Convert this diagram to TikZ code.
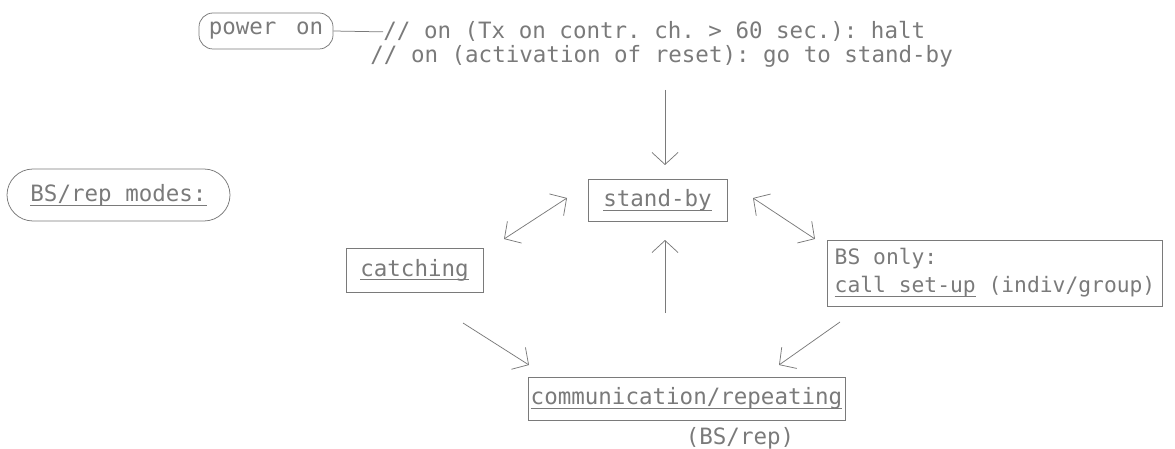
\documentclass[tikz,border=0pt]{standalone}
\usepackage{fontspec}
\setmonofont{DejaVu Sans Mono}
\usetikzlibrary{arrows.meta}
\newsavebox\ulbx
\newcommand\myul[1]{\sbox\ulbx{#1}\rlap{\rule[-4pt]{\wd\ulbx}{0.7pt}}\usebox\ulbx}
\colorlet{plotink}{black!52}
\tikzset{
  lbl/.style={font=\ttfamily\fontsize{22.5}{28}\selectfont, text=plotink},
  statebox/.style={lbl, draw=plotink, rectangle, inner sep=0pt},
  roundbox/.style={lbl, draw=plotink, rectangle, inner sep=0pt},
  tipb/.tip={Straight Barb[length=12pt,width=26pt]},
  arr/.style={draw=plotink, -tipb},
  darr/.style={draw=plotink, tipb-tipb},
}
\begin{document}
\begin{tikzpicture}[x=1pt,y=-1pt,line width=0.75pt]
\useasboundingbox (0,0) rectangle (1175,449);

% nodes
\node[roundbox, rounded corners=14pt, minimum width=134pt, minimum height=36pt] (power) at (266,31) {power\hspace{6pt} on};
\node[lbl, anchor=base west, inner sep=0pt] (cond1) at (383,39) {// on (Tx on contr. ch. > 60 sec.): halt};
\node[lbl, anchor=base west, inner sep=0pt] (cond2) at (370,63) {// on (activation of reset): go to stand-by};

\node[roundbox, rounded corners=26pt, minimum width=223pt, minimum height=52pt] (modes) at (118.5,195) {\myul{BS/rep modes:}};

\node[statebox, minimum width=139pt, minimum height=42pt] (standby) at (657.5,200) {\myul{stand-by}};
\node[statebox, minimum width=137pt, minimum height=44pt] (catching) at (414.5,270) {\myul{catching}};
\node[statebox, inner xsep=7pt, minimum height=66pt, align=left, font=\ttfamily\fontsize{21.3}{28}\selectfont] (bsonly) at (995,273) {BS only:\\\myul{call set-up} (indiv/group)};
\node[statebox, minimum width=317pt, minimum height=43pt] (comm) at (686.5,398.5) {\myul{communication/repeating}};
\node[lbl, anchor=base, inner sep=0pt] (bsrep) at (740,444) {(BS/rep)};

% connector coordinates
\coordinate (dtop) at (665,90);
\coordinate (dtip) at (665,165);
\coordinate (ubot) at (665,313);
\coordinate (utip) at (665,240);
\coordinate (la) at (504,239);
\coordinate (lb) at (567,198);
\coordinate (ra) at (753,198);
\coordinate (rb) at (815,239);
\coordinate (ca) at (463,323);
\coordinate (cb) at (529,365);
\coordinate (ba) at (840,322);
\coordinate (bb) at (779,365);

% connectors
\draw[draw=plotink] (power.east) -- (cond1.west);
\draw[arr] (dtop) -- (dtip);
\draw[arr] (ubot) -- (utip);
\draw[darr] (la) -- (lb);
\draw[darr] (ra) -- (rb);
\draw[arr] (ca) -- (cb);
\draw[arr] (ba) -- (bb);
\end{tikzpicture}
\end{document}
